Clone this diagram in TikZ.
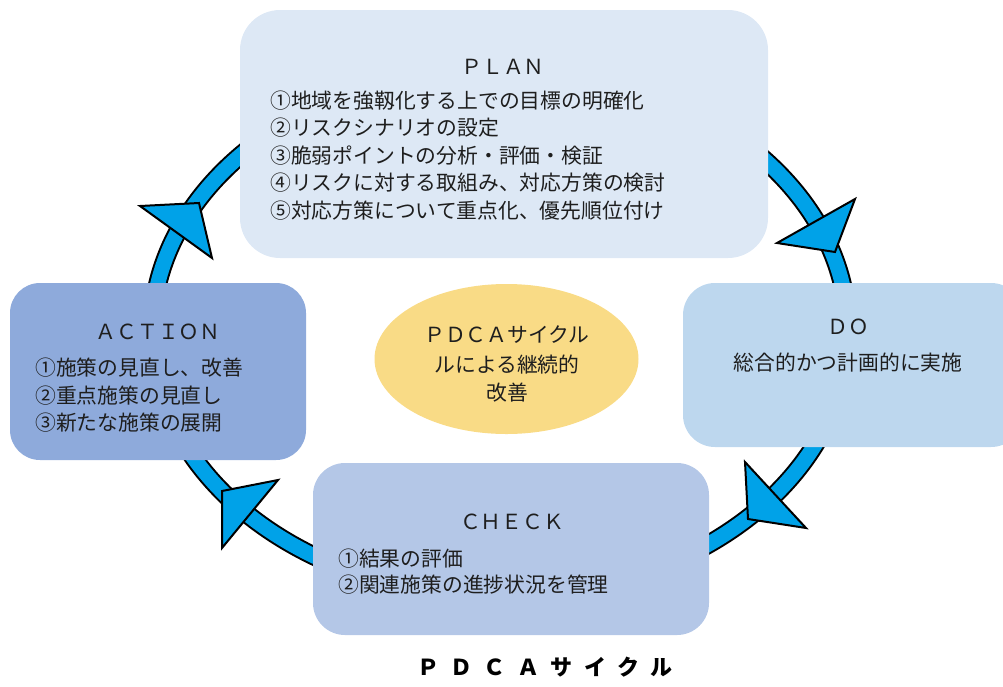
\documentclass[tikz,border=0pt]{standalone}
\usepackage{fontspec}
\setmainfont{Noto Sans CJK JP}
\usetikzlibrary{shapes.geometric}
\definecolor{ringblue}{HTML}{00A2E8}
\definecolor{planc}{HTML}{DDE8F5}
\definecolor{doc}{HTML}{BDD7EE}
\definecolor{checkc}{HTML}{B4C7E7}
\definecolor{actc}{HTML}{8EAADB}
\definecolor{centc}{HTML}{F9DB86}
\definecolor{txtc}{HTML}{1E1E1E}
\newcommand\tsp{\kern11.4pt\relax}
\begin{document}
\begin{tikzpicture}[x=1pt,y=-1pt,
  box/.style={draw=none, inner sep=0},
  txt/.style={inner sep=0, text=txtc, font=\fontsize{20.8pt}{27pt}\selectfont},
  ttl/.style={txt, anchor=base},
  ln/.style={txt, anchor=base west},
  cl/.style={txt, anchor=base},
  head/.style={fill=ringblue, draw=black, line width=2pt, line join=miter}]
\useasboundingbox (0,0) rectangle (1003,686);
% ring
\draw[line width=19pt, black] (500,332) ellipse [x radius=348, y radius=265];
\draw[line width=15pt, ringblue] (500,332) ellipse [x radius=348, y radius=265];
% arrowheads
\filldraw[head] (140,206) -- (199,203) -- (212,258) -- cycle;
\filldraw[head] (855,199) -- (835,252) -- (777,243) -- cycle;
\filldraw[head] (806,528) -- (748,519) -- (745,462) -- cycle;
\filldraw[head] (222,548) -- (222,491) -- (278,480) -- cycle;
% boxes
\node[box, fill=planc, rounded corners=40pt, minimum width=528pt, minimum height=248pt] (plan) at (504,134) {};
\node[box, fill=doc, rounded corners=32pt, minimum width=340pt, minimum height=164pt] (do) at (853,365) {};
\node[box, fill=checkc, rounded corners=32pt, minimum width=396pt, minimum height=172pt] (check) at (511,549) {};
\node[box, fill=actc, rounded corners=30pt, minimum width=296pt, minimum height=177pt] (action) at (158,371.5) {};
\node[box, fill=centc, ellipse, minimum width=264pt, minimum height=150pt] (cent) at (506.5,359) {};
% PLAN text
\node[ttl] (plant) at (503,74.5) {ＰＬＡＮ};
\node[ln] (p1) at (270,108) {①地域を強靱化する上での目標の明確化};
\node[ln] (p2) at (270,135.5) {②リスクシナリオの設定};
\node[ln] (p3) at (270,163) {③脆弱ポイントの分析・評価・検証};
\node[ln] (p4) at (270,190.5) {④リスクに対する取組み、対応方策の検討};
\node[ln] (p5) at (270,218) {⑤対応方策について重点化、優先順位付け};
% DO text
\node[ttl] (dot) at (848,334.5) {ＤＯ};
\node[cl] (d1) at (848,370) {総合的かつ計画的に実施};
% CHECK text
\node[ttl] (checkt) at (512,529.5) {ＣＨＥＣＫ};
\node[ln] (c1) at (338,566) {①結果の評価};
\node[ln] (c2) at (338,592) {②関連施策の進捗状況を管理};
% ACTION text
\node[ttl] (actt) at (158,339.5) {ＡＣＴＩＯＮ};
\node[ln] (a1) at (35,375) {①施策の見直し、改善};
\node[ln] (a2) at (35,403) {②重点施策の見直し};
\node[ln] (a3) at (35,430) {③新たな施策の展開};
% centre
\node[cl] (m1) at (507,342) {ＰＤＣＡサイクル};
\node[cl] (m2) at (507,372) {ルによる継続的};
\node[cl] (m3) at (507,400) {改善};
% title
\node[inner sep=0, anchor=base, text=black, font=\fontsize{22pt}{26pt}\selectfont\bfseries] (title) at (545,675)
  {Ｐ\tsp Ｄ\tsp Ｃ\tsp Ａ\tsp サ\tsp イ\tsp ク\tsp ル};
\end{tikzpicture}
\end{document}
